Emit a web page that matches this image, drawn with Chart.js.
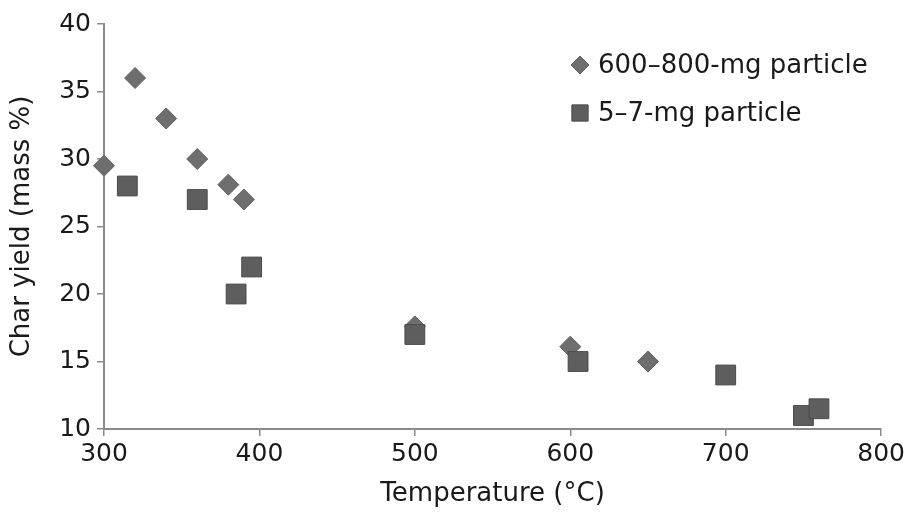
<!DOCTYPE html>
<html>
<head>
<meta charset="utf-8">
<script src="https://cdn.jsdelivr.net/npm/chart.js@4/dist/chart.umd.min.js"></script>
<style>
  html, body { margin: 0; padding: 0; background: #fff; }
  #wrap { width: 908px; height: 514px; }
</style>
</head>
<body>
<div id="wrap"><canvas id="chart" width="908" height="514"></canvas></div>
<script>
// values
const largeLabel = "600\u2013800-mg particle"
const largeTemps = [300, 320, 340, 360, 380, 390, 500, 600, 650]
const largeYield = [29.5, 36, 33, 30, 28.1, 27, 17.6, 16.1, 15]

const smallLabel = "5\u20137-mg particle"
const smallTemps = [315, 360, 385, 395, 500, 605, 700, 750, 760]
const smallYield = [28, 27, 20, 22, 17, 15, 14, 11, 11.5]

const xTitle = "Temperature (\u00b0C)"
const yTitle = "Char yield (mass %)"

const font = "'DejaVu Sans', sans-serif"
const textColor = "#1a1a1a", axisColor = "#8a8a8a"

const pairs = (xs, ys) => xs.map((x, i) => ({ x, y: ys[i] }))

// legend drawn inside the plot area, top right
const cornerLegend = {
    id: "cornerLegend",
    afterDraw(chart) {
        const ctx = chart.ctx
        const rows = [
            { text: largeLabel, style: "rectRot", radius: 9, fill: "#6e6e6e", stroke: "#606060" },
            { text: smallLabel, style: "rect", radius: 11.5, fill: "#5e5e5e", stroke: "#4a4a4a" }
        ]
        ctx.save()
        ctx.font = "26px " + font
        ctx.textBaseline = "middle"
        ctx.fillStyle = textColor
        rows.forEach((r, i) => {
            const y = 65 + i * 48
            ctx.fillStyle = r.fill
            ctx.strokeStyle = r.stroke
            ctx.lineWidth = 1
            Chart.helpers.drawPoint(ctx, { pointStyle: r.style, radius: r.radius, rotation: 0, borderWidth: 1 }, 580, y)
            ctx.fillStyle = textColor
            ctx.fillText(r.text, 598, y + 1)
        })
        ctx.restore()
    }
}

new Chart(document.getElementById("chart"), {
    type: "scatter",
    data: {
        datasets: [{
            label: largeLabel,
            data: pairs(largeTemps, largeYield),
            pointStyle: "rectRot",
            pointRadius: 10.5,
            pointHoverRadius: 10.5,
            backgroundColor: "#6e6e6e",
            borderColor: "#606060",
            borderWidth: 1,
            order: 1,
            clip: false
        }, {
            label: smallLabel,
            data: pairs(smallTemps, smallYield),
            pointStyle: "rect",
            pointRadius: 14,
            pointHoverRadius: 14,
            backgroundColor: "#5e5e5e",
            borderColor: "#4a4a4a",
            borderWidth: 1,
            order: 0,
            clip: false
        }]
    },
    options: {
        responsive: false,
        animation: false,
        layout: { padding: { top: 24, right: 26, left: 0, bottom: 0 } },
        plugins: { legend: { display: false }, tooltip: { enabled: false } },
        scales: {
            x: {
                type: "linear",
                min: 300, max: 800,
                afterFit: s => { s.height = 85 },
                ticks: { stepSize: 100, color: textColor, padding: 3, font: { family: font, size: 25 } },
                grid: { display: true, drawOnChartArea: false, drawTicks: true, tickLength: 7, color: axisColor, lineWidth: 1.5 },
                border: { display: true, color: axisColor, width: 2 },
                title: { display: true, text: xTitle, color: textColor, font: { family: font, size: 26 }, padding: { top: 0, bottom: 4 } }
            },
            y: {
                min: 10, max: 40,
                afterFit: s => { s.width = 104 },
                ticks: { stepSize: 5, color: textColor, padding: 6, font: { family: font, size: 25 } },
                grid: { display: true, drawOnChartArea: false, drawTicks: true, tickLength: 7, color: axisColor, lineWidth: 1.5 },
                border: { display: true, color: axisColor, width: 2 },
                title: { display: true, text: yTitle, color: textColor, font: { family: font, size: 26 }, padding: { top: 7, bottom: 0 } }
            }
        }
    },
    plugins: [cornerLegend]
})
</script>
</body>
</html>
